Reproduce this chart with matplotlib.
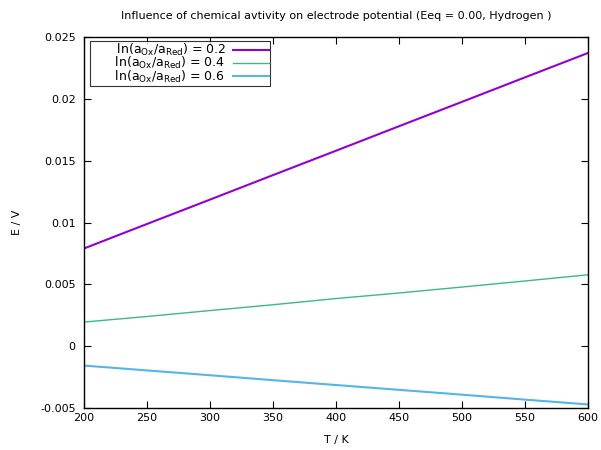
import numpy as np
import matplotlib
matplotlib.use("Agg")
import matplotlib.pyplot as plt

plt.rcParams['font.family'] = 'DejaVu Sans'
plt.rcParams['mathtext.default'] = 'regular'

# temperature grid and electrode potentials for three activity ratios
T = [200, 250, 300, 350, 400, 450, 500, 550, 600]
E_02 = [0.0079, 0.00988, 0.01185, 0.01383, 0.0158, 0.01778, 0.01975, 0.02173, 0.0237]
E_04 = [0.00195, 0.0024, 0.00288, 0.00335, 0.00385, 0.0043, 0.00478, 0.00527, 0.00577]
E_06 = [-0.00157, -0.00196, -0.00235, -0.00275, -0.00314, -0.00353, -0.00392, -0.00432, -0.00471]

labels = [r'      ln(a$_{Ox}$/a$_{Red}$) = 0.2',
          r'      ln(a$_{Ox}$/a$_{Red}$) = 0.4',
          r'      ln(a$_{Ox}$/a$_{Red}$) = 0.6']

fig = plt.figure(figsize=(6.01, 4.5), dpi=100)
ax = fig.add_axes([0.1398, 0.0933, 0.8382, 0.8245])

ax.plot(T, E_02, color='#9400d3', lw=1.5, label=labels[0])
ax.plot(T, E_04, color='#3cb88a', lw=1.0, label=labels[1])
ax.plot(T, E_06, color='#56b4e9', lw=1.5, label=labels[2])

ax.set_xlim(200, 600)
ax.set_ylim(-0.005, 0.025)
ax.set_xticks(np.arange(200, 601, 50))
ax.set_yticks([-0.005, 0, 0.005, 0.01, 0.015, 0.02, 0.025])
ax.set_yticklabels(['-0.005', '0', '0.005', '0.01', '0.015', '0.02', '0.025'])
ax.tick_params(direction='in', top=True, right=True, labelsize=8, length=5, width=0.8)
ax.tick_params(axis='y', pad=6)
for s in ax.spines.values():
    s.set_linewidth(1.0)

ax.set_xlabel('T / K', fontsize=8, labelpad=9)
ax.set_ylabel('E / V', fontsize=8, labelpad=13)
ax.set_title('Influence of chemical avtivity on electrode potential (Eeq = 0.00, Hydrogen )',
             fontsize=8, pad=13)

leg = ax.legend(loc='upper left', bbox_to_anchor=(0.012, 0.99), markerfirst=False,
                fontsize=9, frameon=True, fancybox=False, handlelength=2.9,
                borderpad=0.1, labelspacing=-0.22, handletextpad=0.6, borderaxespad=0)
leg.get_frame().set_edgecolor('black')
leg.get_frame().set_linewidth(0.8)

fig.savefig('out.png', dpi=100)
